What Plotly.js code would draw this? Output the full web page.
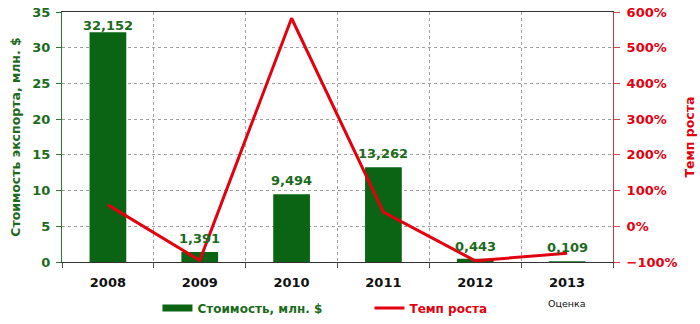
<!DOCTYPE html>
<html>
<head>
<meta charset="utf-8">
<script src="https://cdn.plot.ly/plotly-3.0.1.min.js"></script>
<style>html,body{margin:0;padding:0;background:#fff;}#chart{width:700px;height:324px;}</style>
</head>
<body>
<div id="chart"></div>
<script>
var years = ['2008', '2009', '2010', '2011', '2012', '2013'];
var exportValue = [32.152, 1.391, 9.494, 13.262, 0.443, 0.109];
var valueLabels = ['32,152', '1,391', '9,494', '13,262', '0,443', '0,109'];
var growthRate = [60, -95.7, 582.5, 39.7, -96.7, -75.4];
var estimateNote = 'Оценка';
var barName = 'Стоимость, млн. $';
var lineName = 'Темп роста';

var FONT = 'DejaVu Sans, Verdana, sans-serif';
var GREEN = '#0a6414';
var LABEL_GREEN = '#1b6b1b';
var RED = '#e3000f';

var traces = [
  {
    type: 'bar', name: barName, x: years, y: exportValue,
    marker: {color: GREEN}, showlegend: false, hoverinfo: 'none'
  },
  {
    type: 'scatter', mode: 'lines', name: '<span style="color:' + LABEL_GREEN + '">' + barName + '</span>',
    x: [null], y: [null], line: {color: GREEN, width: 7}, hoverinfo: 'none'
  },
  {
    type: 'scatter', mode: 'lines', name: '<span style="color:' + RED + '">' + lineName + '</span>',
    x: years, y: growthRate,
    yaxis: 'y2', line: {color: RED, width: 3}, hoverinfo: 'none'
  }
];

// label offsets (px above bar top); the first one is held down by the plot's top edge
var labelShift = [7, 14, 14, 14, 12, 14];
var annotations = years.map(function (yr, i) {
  return {
    xref: 'x', yref: 'y', x: i, y: exportValue[i], yanchor: 'middle', yshift: labelShift[i],
    showarrow: false, text: valueLabels[i],
    font: {family: FONT, size: 13, color: LABEL_GREEN, weight: 'bold'}
  };
});
annotations.push({
  xref: 'x', yref: 'paper', x: years.length - 1, y: -0.164, yanchor: 'middle', showarrow: false,
  text: estimateNote, font: {family: FONT, size: 9.5, color: '#111'}
});

var layout = {
  width: 700, height: 324,
  margin: {l: 62, r: 87, t: 12, b: 62, autoexpand: false},
  paper_bgcolor: '#fff', plot_bgcolor: '#fff',
  bargap: 0.6,
  showlegend: true,
  legend: {
    orientation: 'h', x: 0.558, xanchor: 'center', y: -0.184, yanchor: 'middle',
    font: {family: FONT, size: 12, weight: 'bold'},
    entrywidth: 167, entrywidthmode: 'pixels'
  },
  xaxis: {
    type: 'category', range: [-0.5, 5.5], tickson: 'boundaries', ticks: 'outside', ticklen: 5, tickcolor: '#555',
    tickangle: 0, ticklabelstandoff: 8, automargin: false,
    showgrid: true, gridcolor: '#a0a0a0', griddash: 'dot', gridwidth: 1,
    showline: true, linecolor: '#333', linewidth: 1, mirror: true,
    tickfont: {family: FONT, size: 13, color: '#111', weight: 'bold'}
  },
  yaxis: {
    range: [0, 35], dtick: 5, tick0: 0, automargin: false,
    ticks: 'outside', ticklen: 5, tickcolor: '#2c7a2c', ticklabelstandoff: 3,
    showline: true, linecolor: '#2c7a2c', linewidth: 1,
    showgrid: true, gridcolor: '#a0a0a0', griddash: 'dot', gridwidth: 1,
    zeroline: false,
    tickfont: {family: FONT, size: 13, color: LABEL_GREEN, weight: 'bold'},
    title: {text: 'Стоимость экспорта, млн. $', standoff: 8,
            font: {family: FONT, size: 12.5, color: LABEL_GREEN, weight: 'bold'}}
  },
  yaxis2: {
    overlaying: 'y', side: 'right', range: [-100, 600], dtick: 100, tick0: 0, automargin: false,
    ticksuffix: '%', ticks: 'outside', ticklen: 6, tickcolor: '#e04050',
    showline: true, linecolor: '#b04040', linewidth: 1,
    showgrid: false, zeroline: false, ticklabelstandoff: 4,
    tickfont: {family: FONT, size: 13, color: RED, weight: 'bold'},
    title: {text: lineName, standoff: 8,
            font: {family: FONT, size: 12.5, color: RED, weight: 'bold'}}
  },
  annotations: annotations
};

Plotly.newPlot('chart', traces, layout, {staticPlot: true});
</script>
</body>
</html>
